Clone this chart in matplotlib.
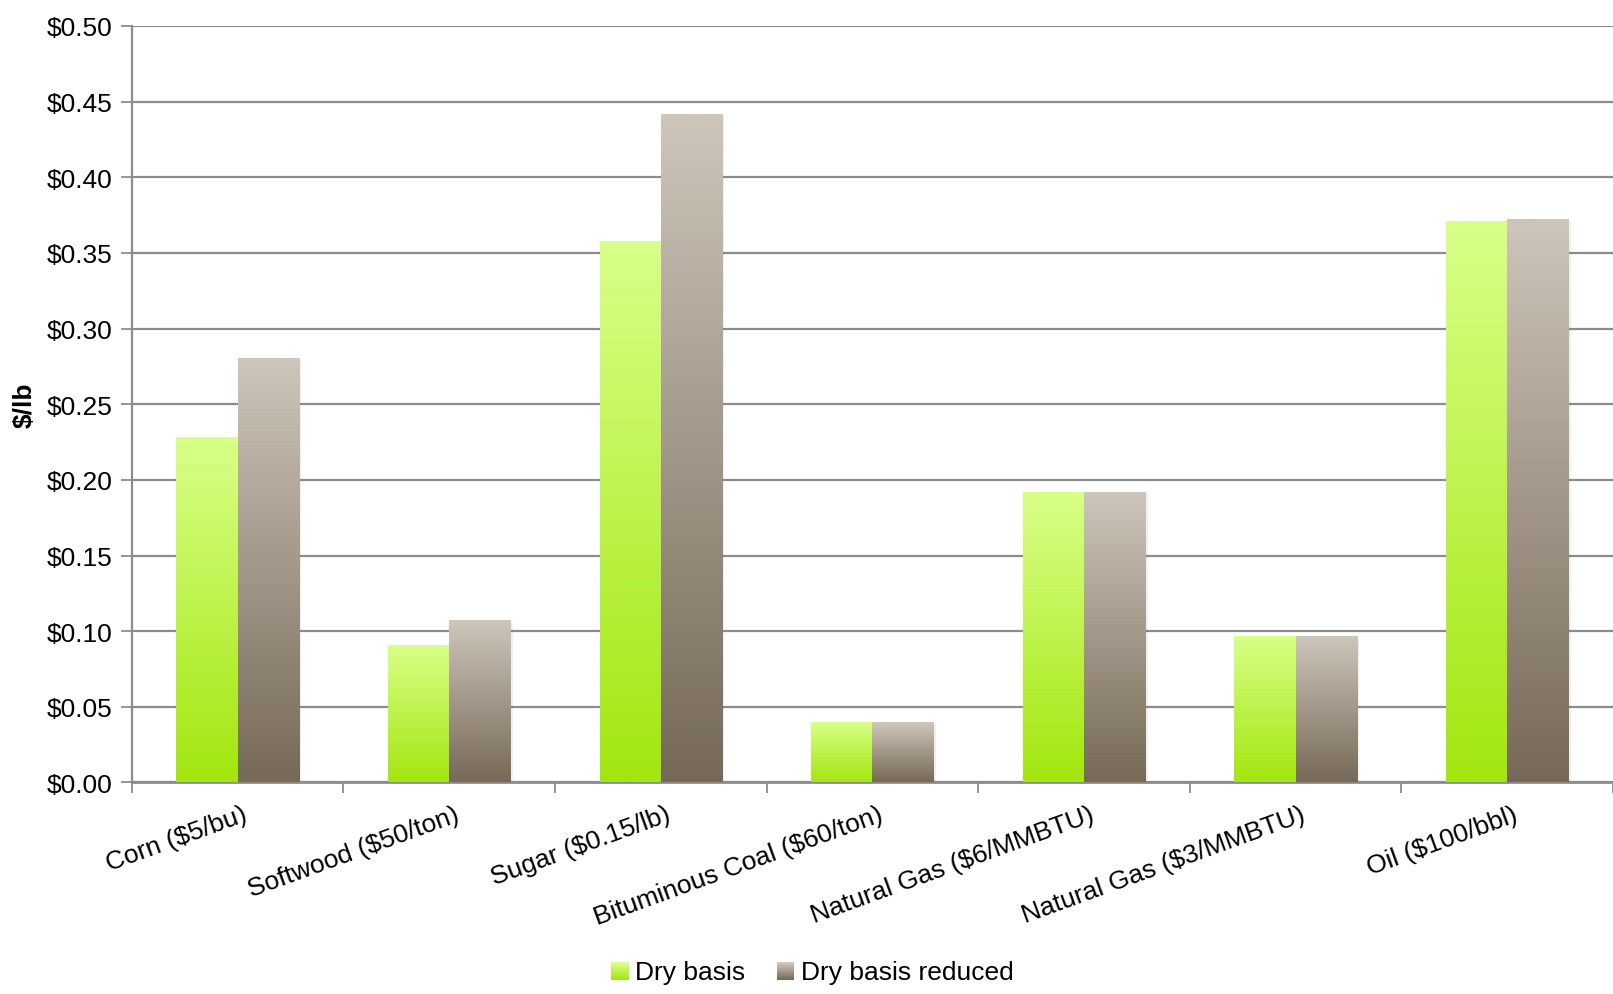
import numpy as np
import matplotlib.pyplot as plt
import matplotlib.transforms as mtransforms
from matplotlib.patches import Rectangle
from matplotlib.legend_handler import HandlerBase
from matplotlib.colors import LinearSegmentedColormap

plt.rcParams['font.family'] = ['Liberation Sans', 'DejaVu Sans']

categories = ['Corn ($5/bu)', 'Softwood ($50/ton)', 'Sugar ($0.15/lb)',
              'Bituminous Coal ($60/ton)', 'Natural Gas ($6/MMBTU)',
              'Natural Gas ($3/MMBTU)', 'Oil ($100/bbl)']
dry_basis = [0.228, 0.090, 0.357, 0.0395, 0.1915, 0.096, 0.3705]
dry_reduced = [0.280, 0.1065, 0.4415, 0.0395, 0.1915, 0.096, 0.3718]
series_names = ['Dry basis', 'Dry basis reduced']

green_cols = ['#a3e60f', '#d9ff88']   # bottom, top
brown_cols = ['#766957', '#cec6bb']
green_cmap = LinearSegmentedColormap.from_list('g', green_cols)
brown_cmap = LinearSegmentedColormap.from_list('b', brown_cols)

grad = np.linspace(0, 1, 256).reshape(-1, 1)
FS = 19


def gradient_bar(ax, x0, w, h, cmap):
    # soft shadow
    ax.add_patch(Rectangle((x0 + 0.012, -0.001), w, h, color='#000000', alpha=0.06,
                           lw=0, zorder=2))
    ax.imshow(grad, cmap=cmap, origin='lower', aspect='auto',
              extent=(x0, x0 + w, 0, h), zorder=3, interpolation='bilinear')


class GradientHandler(HandlerBase):
    def __init__(self, cols):
        super().__init__()
        self.cols = cols

    def create_artists(self, legend, orig_handle, xdescent, ydescent, width,
                       height, fontsize, trans):
        cmap = LinearSegmentedColormap.from_list('h', self.cols)
        size = height * 0.95
        x0 = width - size
        y0 = -ydescent + (height - size) / 2 - 1
        n = 12
        arts = []
        for i in range(n):
            r = Rectangle((x0, y0 + size * i / n), size, size / n + 0.3,
                          facecolor=cmap(i / (n - 1)), edgecolor='none',
                          transform=trans)
            arts.append(r)
        return arts


fig = plt.figure(figsize=(16.13, 9.95), dpi=100)
ax = fig.add_axes([0.0817, 0.2126, 0.9183, 0.7603])

x = np.arange(len(categories))
bw = 0.289
for i in range(len(categories)):
    gradient_bar(ax, x[i] - bw, bw, dry_basis[i], green_cmap)
    gradient_bar(ax, x[i], bw, dry_reduced[i], brown_cmap)

ax.set_xlim(-0.5, len(categories) - 0.5)
ax.set_ylim(0, 0.5)

yt = np.arange(0, 0.501, 0.05)
ax.set_yticks(yt)
ax.set_yticklabels(['$%.2f' % v for v in yt], fontsize=FS)
ax.yaxis.grid(True, color='#8c8c8c', lw=1.6)
ax.set_axisbelow(True)

# category boundary ticks
ax.set_xticks(np.arange(-0.5, len(categories), 1.0))
ax.set_xticklabels([])
ax.set_xticks(x, minor=True)
ax.set_xticklabels(categories, minor=True, rotation=20, ha='right',
                   va='top', rotation_mode='anchor', fontsize=FS)
ax.tick_params(axis='x', which='minor', length=0, pad=14)
shift = mtransforms.ScaledTranslation(5 / 100, 0, fig.dpi_scale_trans)
for lab in ax.get_xticklabels(minor=True):
    lab.set_transform(lab.get_transform() + shift)
ax.tick_params(axis='x', which='major', length=8, color='#8c8c8c', width=1.3)
ax.tick_params(axis='y', length=8, color='#8c8c8c', width=1.3, pad=6)

for s in ['top', 'right']:
    ax.spines[s].set_visible(False)
ax.spines['left'].set_color('#8c8c8c')
ax.spines['left'].set_linewidth(1.6)
ax.spines['bottom'].set_color('#8c8c8c')
ax.spines['bottom'].set_linewidth(2)

ax.set_ylabel('$/lb', fontsize=FS, fontweight='bold', labelpad=7)

h1 = Rectangle((0, 0), 1, 1)
h2 = Rectangle((0, 0), 1, 1)
fig.legend([h1, h2], series_names, loc='center', bbox_to_anchor=(0.503, 0.022),
           ncol=2, frameon=False, fontsize=FS, handlelength=0.75,
           handletextpad=0.25, columnspacing=1.1,
           handler_map={h1: GradientHandler(green_cols),
                        h2: GradientHandler(brown_cols)})

fig.savefig('out.png', dpi=100)
